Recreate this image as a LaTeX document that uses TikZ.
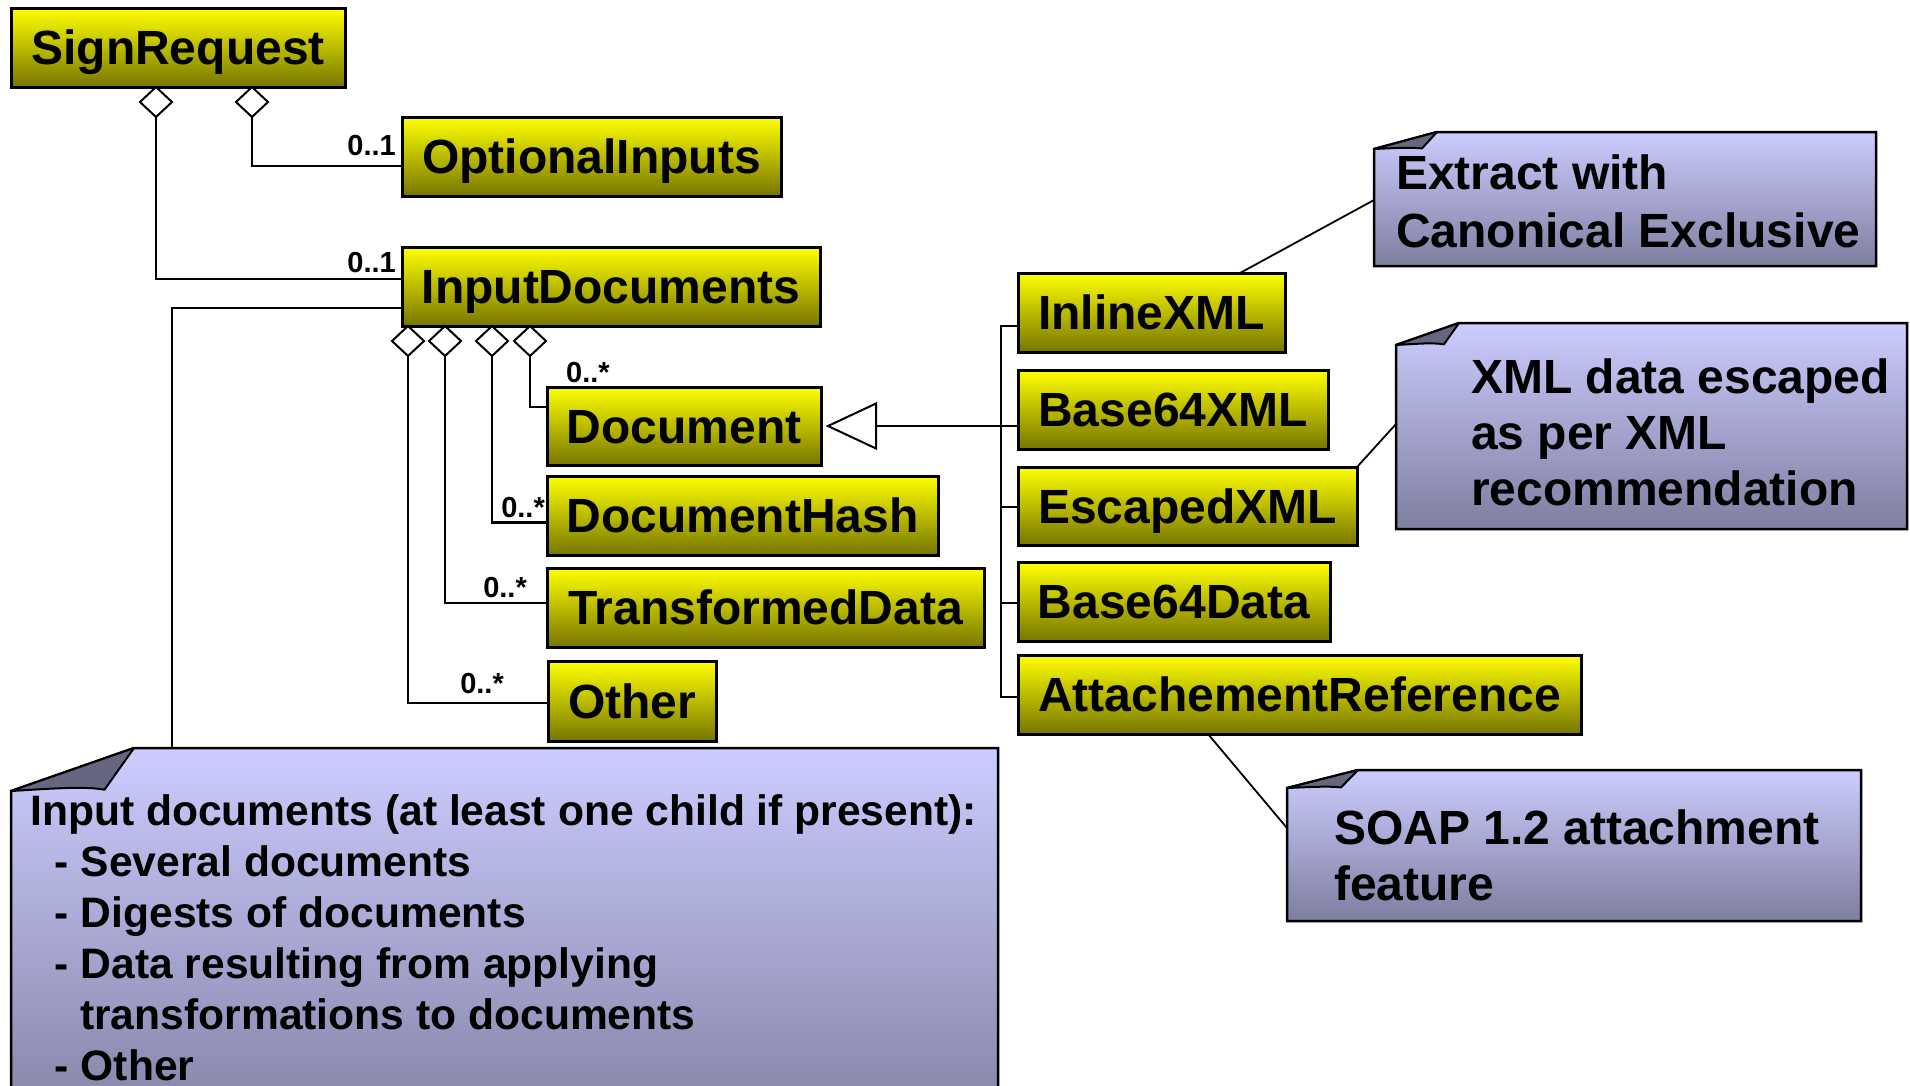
\documentclass[tikz,border=0pt]{standalone}
\usepackage{fontspec}
\setmainfont{Liberation Sans}
\usetikzlibrary{shapes.geometric,calc,shadows}

\definecolor{boxtop}{RGB}{255,255,0}
\definecolor{boxbot}{RGB}{118,118,0}
\definecolor{notetop}{RGB}{204,204,255}
\definecolor{notebot}{RGB}{126,126,160}
\definecolor{foldcol}{RGB}{102,102,128}

% note with a folded top-left corner: name, x1, y1, x2, y2, fold width, fold height
\newcommand\drawnote[7]{%
  \coordinate (#1-nw) at (#2,#3);
  \coordinate (#1-se) at (#4,#5);
  \draw[notebody] (#2+#6,#3) -- (#4,#3) -- (#4,#5) -- (#2,#5) -- (#2,#3+#7) -- cycle;
  \draw[notefold] (#2,#3+#7) -- (#2+#6,#3) -- (#2+0.76*#6,#3+0.97*#7)
    .. controls (#2+0.6*#6,#3+0.88*#7) and (#2+0.3*#6,#3+0.95*#7) .. (#2,#3+#7) -- cycle;
}

\begin{document}
\begin{tikzpicture}[x=1pt,y=-1pt,
  cls/.style={draw=black, line width=3pt, top color=boxtop, bottom color=boxbot,
    inner sep=0pt, outer sep=0pt, font=\fontsize{48}{57.6}\selectfont\bfseries,
    text height=34.4pt, text depth=0pt,
    drop shadow={shadow xshift=2pt, shadow yshift=-2pt, fill=black!30, opacity=0.6}},
  agg/.style={diamond, draw=black, line width=2pt, fill=white, inner sep=0pt,
    outer sep=0pt, minimum width=32pt, minimum height=30pt},
  conn/.style={draw=black, line width=2.2pt},
  pin/.style={draw=black, line width=1.8pt},
  mult/.style={font=\fontsize{29}{34}\selectfont\bfseries, inner sep=0pt},
  notebody/.style={draw=black, line width=2.5pt, top color=notetop, bottom color=notebot, line join=miter},
  notefold/.style={fill=foldcol, draw=black, line width=2pt, line join=round},
  ntext/.style={align=left, inner sep=0pt, font=\fontsize{48}{56}\selectfont\bfseries},
]
\useasboundingbox (0,0) rectangle (1910,1085);
\clip (0,0) rectangle (1910,1085);

% classes
\node[cls, minimum width=334pt, minimum height=79pt] (sr)  at (178,47.5)    {SignRequest};
\node[cls, minimum width=379pt, minimum height=79pt] (oi)  at (591.5,156.5) {OptionalInputs};
\node[cls, minimum width=418pt, minimum height=79pt] (id)  at (611,286.5)   {InputDocuments};
\node[cls, minimum width=274pt, minimum height=78pt] (doc) at (684,426)     {Document};
\node[cls, minimum width=391pt, minimum height=79pt] (dh)  at (742.5,515.5) {DocumentHash};
\node[cls, minimum width=437pt, minimum height=79pt] (td)  at (765.5,607.5) {TransformedData};
\node[cls, minimum width=168pt, minimum height=80pt] (oth) at (632,701)     {Other};
\node[cls, minimum width=267pt, minimum height=79pt] (ix)  at (1151.5,312.5){InlineXML};
\node[cls, minimum width=310pt, minimum height=79pt] (bx)  at (1173,409.5)  {Base64XML};
\node[cls, minimum width=339pt, minimum height=78pt] (ex)  at (1187.5,506)  {EscapedXML};
\node[cls, minimum width=312pt, minimum height=79pt] (bd)  at (1174,601.5)  {Base64Data};
\node[cls, minimum width=563pt, minimum height=79pt] (ar)  at (1299.5,694.5){AttachementReference};

% aggregations of SignRequest
\node[agg, anchor=north] (sa1) at ([xshift=145pt]sr.south west) {};
\node[agg, anchor=north] (sa2) at ([xshift=241pt]sr.south west) {};
\draw[conn] (sa1.south) |- ([yshift=7.5pt]id.west);
\draw[conn] (sa2.south) |- ([yshift=-9.5pt]oi.west);
\node[mult, anchor=base east] (m1) at ([xshift=-6pt,yshift=1.5pt]oi.west) {0..1};
\node[mult, anchor=base east] (m2) at ([xshift=-6pt,yshift=14.5pt]id.west) {0..1};

% aggregations of InputDocuments
\node[agg, anchor=north] (da1) at ([xshift=6pt]id.south west) {};
\node[agg, anchor=north] (da2) at ([xshift=43pt]id.south west) {};
\node[agg, anchor=north] (da3) at ([xshift=90pt]id.south west) {};
\node[agg, anchor=north] (da4) at ([xshift=128pt]id.south west) {};
\draw[conn] (da1.south) |- ([yshift=-2pt]oth.west);
\draw[conn] (da2.south) |- ([yshift=4.5pt]td.west);
\draw[conn] (da3.south) |- ([yshift=-7pt]dh.west);
\draw[conn] (da4.south) |- ([yshift=19pt]doc.west);
\node[mult, anchor=base west] (m3) at ([xshift=19pt,yshift=5pt]doc.north west) {0..*};
\node[mult, anchor=base east] (m4) at ([xshift=-2pt,yshift=-1.5pt]dh.west) {0..*};
\node[mult, anchor=base east] (m5) at ([xshift=-20pt,yshift=10.5pt]td.west) {0..*};
\node[mult, anchor=base east] (m6) at ([xshift=-44pt,yshift=8pt]oth.west) {0..*};

% generalization of the document kinds
\coordinate (gtip) at ([xshift=7pt]doc.east);
\coordinate (gbase) at ([xshift=48pt]gtip);
\draw[conn] (gbase) -- (bx.west |- gbase);
\draw[black, line width=2pt, fill=white, line join=miter] (gtip) -- ++(48,-22.5) -- ++(0,45) -- cycle;
\draw[conn] ([yshift=-13.5pt]ix.west) -- ++(-17,0) |- ([yshift=-2.5pt]ar.west);
\draw[conn] ([yshift=-1pt]ex.west) -- ++(-17,0);
\draw[conn] ([yshift=-1.5pt]bd.west) -- ++(-17,0);

% notes
\coordinate (extpin) at (1374,200);
\coordinate (xmlpin) at (1396,424);
\coordinate (soappin) at (1287,828);
\coordinate (bigpin) at (172,748);
\draw[pin] ([xshift=88.5pt]ix.north) -- (extpin);
\draw[pin] (ex.north east) -- (xmlpin);
\draw[pin] ([xshift=-91.5pt]ar.south) -- (soappin);
\draw[conn] ([yshift=-21.5pt]id.west) -| (bigpin);

\drawnote{ext}{1374}{132}{1876}{266}{63}{17}
\drawnote{xml}{1396}{323}{1907}{529}{63}{22}
\drawnote{soap}{1287}{770}{1861}{921}{71}{18}
\drawnote{big}{11}{748}{998}{1150}{123}{43}

\node[ntext, anchor=north west, font=\fontsize{48}{58}\selectfont\bfseries] (extT) at (1396,154.6)
  {Extract with\\Canonical Exclusive};
\node[ntext, anchor=north west] (xmlT) at (1471,358.6)
  {XML data escaped\\as per XML\\recommendation};
\node[ntext, anchor=north west] (soapT) at (1334,809.6)
  {SOAP 1.2 attachment\\feature};
\node[ntext, anchor=north west, font=\fontsize{42.6}{51}\selectfont\bfseries] (bigT) at (30,794)
  {Input documents (at least one child if present):\\
   \hspace*{24.5pt}- Several documents\\
   \hspace*{24.5pt}- Digests of documents\\
   \hspace*{24.5pt}- Data resulting from applying\\
   \hspace*{50pt}transformations to documents\\
   \hspace*{24.5pt}- Other};
\end{tikzpicture}
\end{document}
